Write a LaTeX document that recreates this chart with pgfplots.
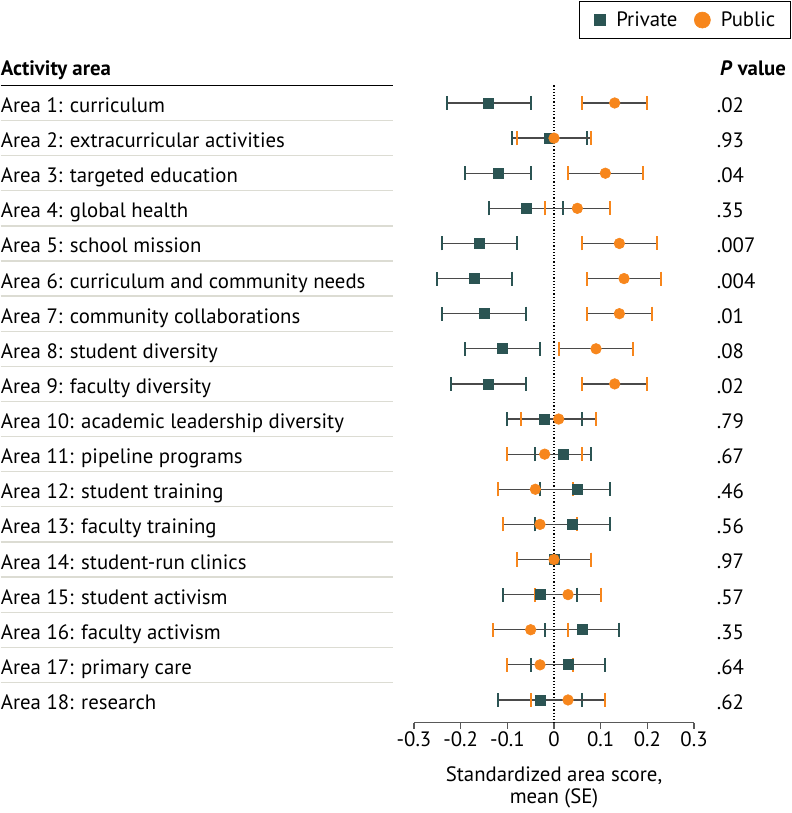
\documentclass[border=0pt]{standalone}
\usepackage{fontspec}
\setmainfont{PT Sans}
\usepackage{pgfplots}
\usepackage{pgfplotstable}
\pgfplotsset{compat=1.18}

\definecolor{priv}{HTML}{2B5453}
\definecolor{pub}{HTML}{F7861C}
\definecolor{sepgray}{HTML}{DCDCD3}
\definecolor{barcol}{HTML}{4A4A4A}
\newcommand\fs{\fontsize{20.8}{22}\selectfont}

% row, mean, lower, upper
\pgfplotstableread{
row  m      lo     hi
1   -0.14  -0.23  -0.05
2   -0.01  -0.09   0.07
3   -0.12  -0.19  -0.05
4   -0.06  -0.14   0.02
5   -0.16  -0.24  -0.08
6   -0.17  -0.25  -0.09
7   -0.15  -0.24  -0.06
8   -0.11  -0.19  -0.03
9   -0.14  -0.22  -0.06
10  -0.02  -0.10   0.06
11   0.02  -0.04   0.08
12   0.05  -0.03   0.12
13   0.04  -0.04   0.12
14   0.00  -0.08   0.08
15  -0.03  -0.11   0.05
16   0.06  -0.02   0.14
17   0.03  -0.05   0.11
18  -0.03  -0.12   0.06
}\private

\pgfplotstableread{
row  m      lo     hi
1    0.13   0.06   0.20
2    0.00  -0.08   0.08
3    0.11   0.03   0.19
4    0.05  -0.02   0.12
5    0.14   0.06   0.22
6    0.15   0.07   0.23
7    0.14   0.07   0.21
8    0.09   0.01   0.17
9    0.13   0.06   0.20
10   0.01  -0.07   0.09
11  -0.02  -0.10   0.06
12  -0.04  -0.12   0.04
13  -0.03  -0.11   0.05
14   0.00  -0.08   0.08
15   0.03  -0.04   0.10
16  -0.05  -0.13   0.03
17  -0.03  -0.10   0.04
18   0.03  -0.05   0.11
}\public

\pgfplotsset{
    forest/.style={
        scale only axis,
        width  = 280pt,
        height = 637.2pt,
        xmin = -0.3, xmax = 0.3,
        ymin = -18.646, ymax = -0.5,
        ytick = {-1,-2,...,-18},
        separate axis lines,
        axis y line* = left,
        y axis line style = {draw=none},
        ytick style = {draw=none},
        clip = false,
    }
}

\begin{document}
\begin{tikzpicture}
    \begin{axis}[
        forest,
        % x axis
        axis x line* = bottom,
        x axis line style = {-, draw=black!65, line width=1.2pt},
        xtick = {-0.3,-0.2,-0.1,0,0.1,0.2,0.3},
        xticklabels = {-0.3,-0.2,-0.1,0,0.1,0.2,0.3},
        xtick align = outside,
        major tick length = 6pt,
        xtick style = {draw=black!65, line width=1.2pt},
        tick label style = {font=\fs},
        xlabel = {Standardized area score,\\mean (SE)},
        xlabel style = {font=\fs, align=center, yshift=-13pt},
        % row labels
        yticklabels = {
            Area 1: curriculum,
            Area 2: extracurricular activities,
            Area 3: targeted education,
            Area 4: global health,
            Area 5: school mission,
            Area 6: curriculum and community needs,
            Area 7: community collaborations,
            Area 8: student diversity,
            Area 9: faculty diversity,
            Area 10: academic leadership diversity,
            Area 11: pipeline programs,
            Area 12: student training,
            Area 13: faculty training,
            Area 14: student-run clinics,
            Area 15: student activism,
            Area 16: faculty activism,
            Area 17: primary care,
            Area 18: research
        },
        yticklabel style = {anchor=base west, inner sep=0pt, xshift=-413.3pt, yshift=-9.5pt},
        % legend
        legend style = {
            at = {(axis description cs:1.3454,1.1326)},
            anchor = north east,
            draw = black,
            line width = 1pt,
            font = \fs,
            inner xsep = 15pt,
            inner ysep = 10.5pt,
            nodes = {inner sep=0pt},
            legend columns = 2,
            /tikz/every odd column/.append style = {column sep=10.5pt},
            /tikz/every even column/.append style = {column sep=16.8pt}
        },
        legend cell align = left,
    ]

        % page extent
        \path (axis cs:-1.1856,1.933) rectangle (axis cs:0.5094,-21.219);

        % table rules
        \draw[black, line width=1.5pt] (axis cs:-1.1856,-0.5) -- (axis cs:-0.3457,-0.5);
        \pgfplotsinvokeforeach{1,...,17}{
            \draw[sepgray, line width=1.3pt] (axis cs:-1.1856,-#1.5) -- (axis cs:-0.3457,-#1.5);
        }

        % headers
        \node[anchor=base west, inner sep=0pt, font=\bfseries\fs] at (axis cs:-1.1856,-0.231) {Activity area};
        \node[anchor=base west, inner sep=0pt, font=\bfseries\fs] at (axis cs:0.3557,-0.231) {\textit{P} value};

        % zero line
        \draw[dotted, line width=1.2pt] (axis cs:0,-0.5) -- (axis cs:0,-18.646);

        % Private
        \addplot[
            only marks,
            mark = square*,
            mark size = 5pt,
            mark options = {fill=priv, draw=priv, line width=0.8pt},
            legend image post style = {mark size=5.6pt},
            error bars/.cd,
                x dir = both,
                x explicit,
                error bar style = {line width=1.3pt, draw=barcol},
                error mark options = {rotate=90, line width=2.2pt, mark size=7pt, draw=priv}
        ] table[
            x = m,
            y expr = -\thisrow{row},
            x error plus expr  = \thisrow{hi}-\thisrow{m},
            x error minus expr = \thisrow{m}-\thisrow{lo}
        ] {\private};

        % Public
        \addplot[
            only marks,
            mark = *,
            mark size = 5.3pt,
            mark options = {fill=pub, draw=pub, line width=0.6pt},
            legend image post style = {mark size=8pt},
            error bars/.cd,
                x dir = both,
                x explicit,
                error bar style = {line width=1.3pt, draw=barcol},
                error mark options = {rotate=90, line width=2.2pt, mark size=7pt, draw=pub}
        ] table[
            x = m,
            y expr = -\thisrow{row},
            x error plus expr  = \thisrow{hi}-\thisrow{m},
            x error minus expr = \thisrow{m}-\thisrow{lo}
        ] {\public};

        \legend{Private, Public}
    \end{axis}

    % P values
    \begin{axis}[
        forest,
        hide x axis,
        axis y line* = right,
        tick label style = {font=\fs},
        yticklabels = {.02,.93,.04,.35,.007,.004,.01,.08,.02,.79,.67,.46,.56,.97,.57,.35,.64,.62},
        yticklabel style = {anchor=base west, inner sep=0pt, xshift=22.7pt, yshift=-9.5pt},
    ]
        \addplot[draw=none] coordinates {(0,-1)};
    \end{axis}
\end{tikzpicture}
\end{document}
